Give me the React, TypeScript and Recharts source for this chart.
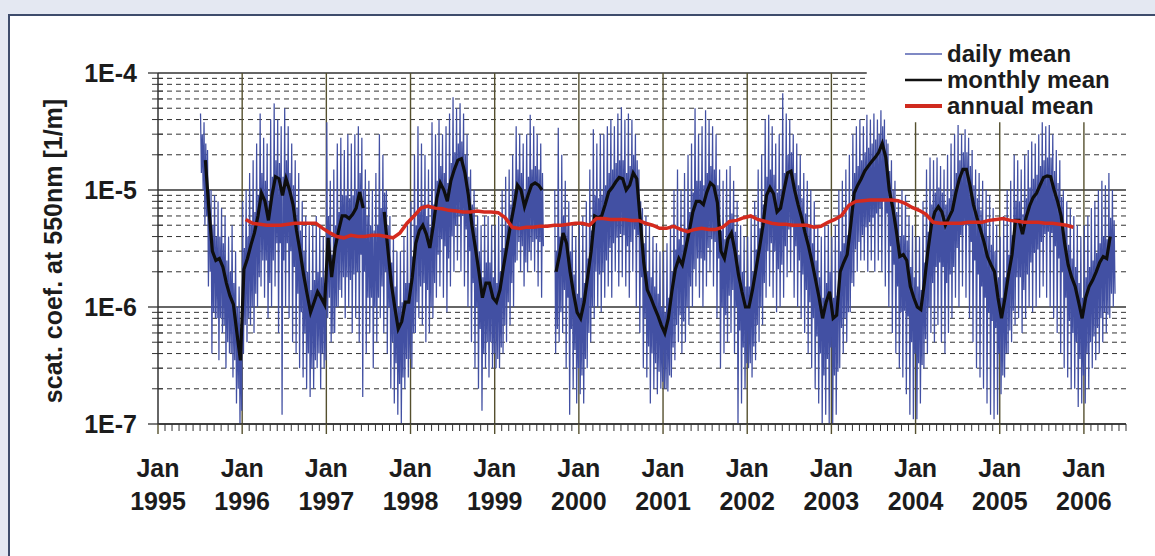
import React from "react";
import { LineChart, Line, XAxis, YAxis, ReferenceLine } from "recharts";

// values are in 1E-6 1/m (Mm-1), axis labels show them in 1/m
const X_START = 1995;
const X_END = 2006.5;
const DECADES = [0.1, 1, 10, 100];
const DECADE_LABELS = ["1E-7", "1E-6", "1E-5", "1E-4"];
const MINOR_STEPS = [2, 3, 4, 5, 6, 7, 8, 9];
const YEAR_LINES = [1996, 1997, 1998, 1999, 2000, 2001, 2002, 2003, 2004, 2005, 2006];
const MONTH_LABEL = "Jan";
const Y_TITLE = "scat. coef. at 550nm [1/m]";
const LEGEND_NAMES = ["daily mean", "monthly mean", "annual mean"];

// legend box hides the grid above/right of this point
const LEGEND_X = 2003.42;
const LEGEND_Y = 38;

// daily mean, extremes: high / low pair per half month
const PEAK_1995 = [
  null, null, null, null, null, null, null, null, null, null, null, null,
  null, null, null, null, null, null, null, null, null, null, null, null,
  45, 14, 38, 5, 22, 1.5, 10, 0.4, 9, 0.8, 8, 0.35,
  7, 0.6, 6, 0.3, 4, 0.4, 5, 0.25, 3, 0.15, 1.5, 0.1,
];
const PEAK_1996 = [
  8, 0.4, 10, 0.5, 14, 0.7, 18, 0.6, 25, 1.0, 45, 1.5,
  28, 1.2, 25, 0.8, 40, 1.0, 55, 1.5, 40, 0.6, 35, 0.12,
  50, 1.0, 35, 0.8, 25, 0.5, 18, 0.4, 14, 0.3, 8, 0.25,
  6, 0.2, 5, 0.17, 5, 0.2, 6, 0.3, 5, 0.2, 4, 0.3,
];
const PEAK_1997 = [
  38, 0.8, 12, 0.5, 15, 0.6, 25, 1.0, 28, 1.2, 22, 0.8,
  30, 1.0, 25, 0.6, 30, 0.8, 35, 0.5, 28, 0.17, 15, 0.4,
  12, 0.6, 10, 0.3, 14, 0.5, 30, 0.8, 20, 0.6, 10, 0.4,
  6, 0.2, 4, 0.15, 3, 0.12, 3, 0.1, 4, 0.2, 5, 0.25,
];
const PEAK_1998 = [
  8, 0.3, 20, 0.6, 35, 0.8, 25, 0.7, 20, 0.5, 15, 0.6,
  38, 0.8, 30, 1.2, 40, 1.5, 30, 1.2, 35, 0.9, 45, 1.5,
  62, 2, 50, 2.5, 55, 2, 45, 1.5, 30, 1.0, 15, 0.5,
  10, 0.3, 6, 0.2, 5, 0.13, 6, 0.3, 6, 0.25, 5, 0.3,
];
const PEAK_1999 = [
  5, 0.3, 6, 0.3, 10, 0.4, 13, 0.5, 15, 0.7, 20, 1.0,
  35, 2.5, 30, 2, 25, 1.5, 30, 2, 44, 2.5, 35, 2,
  30, 1.5, 25, 1.2, null, null, null, null, null, null, 10, 0.4,
  34, 0.5, 20, 0.6, 12, 0.3, 8, 0.12, 5, 0.2, 4, 0.15,
];
const PEAK_2000 = [
  5, 0.18, 6, 0.15, 8, 0.3, 15, 0.5, 33, 0.8, 25, 1.0,
  30, 0.9, 30, 1.2, 35, 1.5, 40, 1.2, 35, 2, 45, 1.5,
  51, 1.8, 40, 1.5, 45, 1.2, 40, 2, 30, 1.0, 15, 0.6,
  7, 0.3, 6, 0.25, 5, 0.15, 4, 0.2, 3.5, 0.18, 3, 0.2,
];
const PEAK_2001 = [
  3, 0.2, 3.5, 0.19, 5, 0.25, 10, 0.35, 15, 0.5, 10, 0.4,
  14, 0.5, 20, 0.7, 25, 1.0, 50, 1.5, 30, 1.2, 35, 1.0,
  48, 1.5, 40, 2, 35, 1.5, 30, 0.8, 15, 0.3, 12, 0.4,
  15, 0.5, 16, 0.6, 12, 0.4, 8, 0.1, 5, 0.15, 4, 0.2,
];
const PEAK_2002 = [
  4, 0.3, 6, 0.25, 8, 0.35, 15, 0.5, 20, 0.7, 40, 1.2,
  44, 1.5, 35, 1.2, 25, 0.9, 30, 1.0, 67, 1.2, 45, 1.8,
  40, 2, 30, 1.2, 25, 1.0, 20, 0.8, 14, 0.6, 12, 0.4,
  10, 0.3, 8, 0.2, 5, 0.15, 4, 0.1, 5, 0.12, 5, 0.1,
];
const PEAK_2003 = [
  4, 0.1, 5, 0.12, 10, 0.3, 12, 0.4, 15, 0.5, 20, 0.9,
  30, 1.5, 35, 2, 40, 2.5, 35, 2.5, 44, 2, 40, 2.5,
  45, 2, 40, 2.5, 48, 2, 40, 1.5, 25, 1.0, 18, 0.6,
  12, 0.4, 8, 0.3, 10, 0.25, 9, 0.18, 6, 0.12, 5, 0.11,
];
const PEAK_2004 = [
  4, 0.11, 4, 0.15, 8, 0.3, 15, 0.4, 19, 0.6, 18, 0.5,
  19, 0.7, 16, 0.5, 15, 0.4, 20, 0.6, 25, 0.8, 30, 1.2,
  36, 1.0, 30, 1.5, 33, 1.2, 28, 0.8, 22, 0.5, 15, 0.3,
  14, 0.25, 12, 0.2, 10, 0.15, 9, 0.12, 7, 0.11, 5, 0.12,
];
const PEAK_2005 = [
  4, 0.18, 6, 0.25, 10, 0.4, 12, 0.5, 20, 0.7, 18, 0.8,
  15, 0.6, 20, 0.8, 22, 1.0, 26, 0.9, 25, 1.0, 30, 1.2,
  38, 1.5, 35, 1.2, 36, 1.0, 30, 0.8, 22, 0.6, 18, 0.4,
  10, 0.3, 8, 0.25, 7, 0.2, 6, 0.2, 5, 0.14, 4, 0.15,
];
const PEAK_2006 = [5, 0.15, 6, 0.2, 7, 0.3, 8, 0.35, 10, 0.4, 12, 0.5, 11, 0.6, 14, 0.8, 10, 1.0];

// daily mean, dense core of the band: top / bottom pair per half month
const CORE_1995 = [
  null, null, null, null, null, null, null, null, null, null, null, null,
  null, null, null, null, null, null, null, null, null, null, null, null,
  30, 10, 25, 6, 10, 2, 5, 0.9, 4, 0.8, 4, 0.8,
  3.5, 0.7, 2.5, 0.5, 2, 0.4, 1.6, 0.35, 1, 0.2, 0.6, 0.13,
];
const CORE_1996 = [
  3.2, 0.7, 4, 0.8, 5, 1, 6.5, 1.3, 9, 1.8, 14, 2.5,
  12, 2.5, 8, 1.6, 13, 2.5, 18, 3.5, 17, 3.5, 13, 2.5,
  18, 3.5, 14, 3, 11, 2.2, 7, 1.3, 4.5, 0.9, 3, 0.6,
  2, 0.4, 1.4, 0.3, 1.7, 0.35, 2, 0.4, 1.8, 0.4, 1.6, 0.35,
];
const CORE_1997 = [
  6, 1.2, 2.8, 0.6, 5, 1, 6.5, 1.4, 9, 1.8, 9, 1.8,
  8.5, 1.7, 9, 1.9, 10, 2, 14, 2.8, 10, 2, 6, 1.2,
  5, 1.2, 4.5, 1, 5, 1.2, 7, 1.5, 9.5, 2, 5, 1,
  2.4, 0.5, 1.5, 0.33, 1, 0.22, 1.1, 0.25, 1.6, 0.36, 1.6, 0.36,
];
const CORE_1998 = [
  2.7, 0.6, 5, 1.1, 6.5, 1.5, 7.5, 1.6, 6, 1.4, 4.8, 1,
  7.5, 1.6, 12, 2.8, 16, 3.8, 14, 3.3, 11.5, 2.6, 17, 4,
  21, 5, 25, 6, 26, 6, 20, 4.6, 13, 3, 7.5, 1.6,
  4.8, 1, 3, 0.65, 1.8, 0.4, 2.4, 0.5, 2.4, 0.5, 1.8, 0.4,
];
const CORE_1999 = [
  1.6, 0.36, 2, 0.45, 3.2, 0.7, 5, 1.1, 7.5, 1.6, 10, 2.4,
  15, 3.6, 14, 3.3, 10, 2.4, 13, 3, 15, 3.6, 16, 3.8,
  15, 3.6, 14, 3.3, null, null, null, null, null, null, 3, 0.65,
  4, 0.9, 6, 1.4, 5, 1.2, 3, 0.65, 1.9, 0.43, 1.3, 0.3,
];
const CORE_2000 = [
  1.2, 0.26, 1.6, 0.36, 2.6, 0.6, 4.5, 1, 9, 2, 8.5, 1.9,
  9, 2, 11, 2.5, 14, 3.2, 15, 3.5, 17, 3.9, 18, 4.2,
  18, 4.1, 14, 3.3, 16, 3.6, 20, 4.6, 18, 4.1, 8, 1.8,
  3.5, 0.8, 2, 0.46, 1.8, 0.4, 1.5, 0.33, 1.3, 0.28, 1, 0.23,
];
const CORE_2001 = [
  0.9, 0.2, 1.2, 0.26, 2, 0.45, 3.1, 0.7, 3.8, 0.85, 3.4, 0.75,
  4.7, 1, 6.5, 1.5, 9.5, 2.1, 12, 2.6, 12, 2.6, 11, 2.5,
  14, 3.2, 16, 3.8, 15, 3.6, 11, 2.6, 4.5, 1, 3.8, 0.85,
  5.5, 1.25, 6.3, 1.4, 4.4, 1, 2.8, 0.63, 2, 0.45, 1.5, 0.33,
];
const CORE_2002 = [
  1.5, 0.33, 2, 0.46, 3.1, 0.7, 4.7, 1, 7.5, 1.6, 13, 3,
  15, 3.5, 13.5, 3, 9.5, 2.1, 10, 2.3, 14, 3.3, 20, 4.6,
  21, 4.8, 14, 3.3, 11, 2.5, 8.5, 1.9, 6.3, 1.4, 4.8, 1.1,
  3.5, 0.8, 2.5, 0.56, 1.8, 0.4, 1.2, 0.26, 1.6, 0.36, 2, 0.45,
];
const CORE_2003 = [
  1.2, 0.26, 1.25, 0.28, 3, 0.66, 3.5, 0.8, 4.1, 0.9, 7.5, 1.6,
  14, 3.1, 16, 3.6, 18, 4.1, 21, 4.8, 23, 5.3, 25, 5.8,
  27, 6.3, 30, 7, 35, 8, 27, 6.3, 14.5, 3.3, 10, 2.3,
  6.5, 1.5, 4, 0.9, 4.1, 0.93, 3.7, 0.83, 2.2, 0.5, 1.8, 0.4,
];
const CORE_2004 = [
  1.5, 0.33, 1.4, 0.32, 2.4, 0.53, 4.4, 1, 7.5, 1.6, 9.5, 2.2,
  10.5, 2.4, 9.5, 2.2, 7.5, 1.6, 8.5, 1.9, 10, 2.2, 14, 3.2,
  18, 4.1, 21, 5, 21, 5, 16, 3.6, 11, 2.5, 8.5, 1.9,
  6.7, 1.5, 5.3, 1.2, 4, 0.9, 3.4, 0.76, 3, 0.66, 1.8, 0.4,
];
const CORE_2005 = [
  1.2, 0.26, 1.8, 0.4, 2.8, 0.63, 4.1, 0.93, 8, 1.8, 8, 1.8,
  6.2, 1.4, 8.5, 1.9, 10.5, 2.4, 12.5, 2.9, 13.5, 3.1, 16, 3.6,
  18, 4.2, 19, 4.4, 19, 4.3, 14.5, 3.3, 11.5, 2.6, 8.7, 2,
  5.1, 1.2, 3.4, 0.76, 2.6, 0.6, 2.2, 0.5, 1.6, 0.36, 1.2, 0.26,
];
const CORE_2006 = [1.8, 0.4, 2.2, 0.5, 2.5, 0.56, 2.9, 0.66, 3.5, 0.8, 4, 0.9, 3.8, 0.86, 5.8, 1.3, 5.5, 1.3];

// monthly mean: one value per half month
const MONTHLY_1995 = [
  null, null, null, null, null, null, null, null, null, null, null, null,
  null, 18, 7, 3, 2.5, 2.6, 2.2, 1.6, 1.25, 1.05, 0.6, 0.35,
];
const MONTHLY_1996 = [2.1, 2.6, 3.4, 4.3, 6, 9.4, 8, 5.5, 9, 13, 12.5, 9, 12.5, 10, 7.5, 4.5, 3, 1.9, 1.3, 0.9, 1.1, 1.35, 1.2, 1.05];
const MONTHLY_1997 = [3.9, 1.8, 3.2, 4.5, 6, 6, 5.7, 6.2, 7, 9.6, 7, null, null, null, null, null, 6.5, 3.2, 1.6, 1.0, 0.65, 0.75, 1.1, 1.1];
const MONTHLY_1998 = [1.8, 3.5, 4.5, 5, 4.2, 3.2, 5, 8.5, 11.5, 10, 8, 12, 15, 18, 18.5, 14, 9, 5, 3.2, 2, 1.2, 1.6, 1.6, 1.2];
const MONTHLY_1999 = [1.1, 1.4, 2.2, 3.3, 5, 7.2, 11, 10, 7.2, 9, 11, 11.5, 11, 10, null, null, null, 2.0, 2.8, 4.3, 3.5, 2, 1.3, 0.9];
const MONTHLY_2000 = [0.8, 1.1, 1.8, 3, 6, 5.8, 6, 7.5, 9.6, 10.5, 11.7, 12.8, 12.5, 10, 11, 14, 12.5, 5.5, 2.4, 1.4, 1.2, 1.0, 0.85, 0.7];
const MONTHLY_2001 = [0.6, 0.8, 1.35, 2.1, 2.6, 2.3, 3.2, 4.5, 6.5, 8, 8, 7.5, 9.6, 11.5, 10.8, 7.8, 3, 2.6, 3.8, 4.3, 3, 1.9, 1.35, 1.0];
const MONTHLY_2002 = [1.0, 1.4, 2.1, 3.2, 5, 9, 10.5, 9.3, 6.5, 7, 10, 14, 14.5, 10, 7.5, 5.8, 4.3, 3.3, 2.4, 1.7, 1.2, 0.8, 1.1, 1.35];
const MONTHLY_2003 = [0.8, 0.85, 2.0, 2.4, 2.8, 5, 9.4, 11, 12.5, 14.5, 16, 17.5, 19, 21, 25, 19, 10, 7, 4.5, 2.7, 2.8, 2.5, 1.5, 1.2];
const MONTHLY_2004 = [1.0, 0.95, 1.6, 3, 5, 6.5, 7.2, 6.5, 5, 5.8, 6.7, 9.5, 12.5, 15, 15, 11, 7.5, 5.8, 4.6, 3.6, 2.7, 2.3, 2.0, 1.2];
const MONTHLY_2005 = [0.8, 1.2, 1.9, 2.8, 5.5, 5.5, 4.2, 5.8, 7.3, 8.6, 9.4, 11, 12.8, 13.2, 13, 10, 8, 6, 3.5, 2.3, 1.8, 1.5, 1.1, 0.8];
const MONTHLY_2006 = [1.2, 1.5, 1.7, 2.0, 2.4, 2.7, 2.6, 4.0];

// annual mean (running): one value per month
const ANNUAL_1996 = [5.6, 5.2, 5.1, 5.0, 5.0, 5.0, 5.1, 5.2, 5.2, 5.2, 5.2, 4.7];
const ANNUAL_1997 = [4.3, 4.0, 3.9, 4.1, 4.0, 4.0, 4.1, 4.1, 4.0, 3.9, 4.3, 5.2];
const ANNUAL_1998 = [6.0, 7.0, 7.3, 7.0, 6.9, 6.7, 6.6, 6.5, 6.5, 6.6, 6.5, 6.5];
const ANNUAL_1999 = [6.4, 5.8, 4.8, 4.7, 4.8, 4.8, 4.9, 4.9, 5.0, 5.0, 5.1, 5.2];
const ANNUAL_2000 = [5.2, 5.0, 5.7, 5.7, 5.6, 5.6, 5.6, 5.5, 5.5, 5.2, 5.0, 4.7];
const ANNUAL_2001 = [4.7, 4.9, 4.6, 4.4, 4.6, 4.7, 4.6, 4.6, 4.8, 5.4, 5.5, 5.8];
const ANNUAL_2002 = [6.0, 5.6, 5.4, 5.2, 5.1, 5.1, 5.0, 5.0, 5.0, 4.8, 4.9, 5.3];
const ANNUAL_2003 = [5.6, 6.1, 7.4, 8.0, 8.1, 8.2, 8.2, 8.2, 8.2, 8.1, 7.7, 7.1];
const ANNUAL_2004 = [6.7, 6.2, 5.3, 5.2, 5.2, 5.2, 5.2, 5.3, 5.3, 5.3, 5.5, 5.6];
const ANNUAL_2005 = [5.7, 5.5, 5.4, 5.3, 5.3, 5.3, 5.2, 5.2, 5.1, 5.0, 4.8];

type Vals = (number | null)[];

const DAILY_ROWS = [
  [1995, PEAK_1995, CORE_1995], [1996, PEAK_1996, CORE_1996], [1997, PEAK_1997, CORE_1997],
  [1998, PEAK_1998, CORE_1998], [1999, PEAK_1999, CORE_1999], [2000, PEAK_2000, CORE_2000],
  [2001, PEAK_2001, CORE_2001], [2002, PEAK_2002, CORE_2002], [2003, PEAK_2003, CORE_2003],
  [2004, PEAK_2004, CORE_2004], [2005, PEAK_2005, CORE_2005], [2006, PEAK_2006, CORE_2006],
] as [number, Vals, Vals][];
const MONTHLY_ROWS = [
  [1995, MONTHLY_1995], [1996, MONTHLY_1996], [1997, MONTHLY_1997], [1998, MONTHLY_1998],
  [1999, MONTHLY_1999], [2000, MONTHLY_2000], [2001, MONTHLY_2001], [2002, MONTHLY_2002],
  [2003, MONTHLY_2003], [2004, MONTHLY_2004], [2005, MONTHLY_2005], [2006, MONTHLY_2006],
] as [number, Vals][];
const ANNUAL_ROWS = [
  [1996, ANNUAL_1996], [1997, ANNUAL_1997], [1998, ANNUAL_1998], [1999, ANNUAL_1999],
  [2000, ANNUAL_2000], [2001, ANNUAL_2001], [2002, ANNUAL_2002], [2003, ANNUAL_2003],
  [2004, ANNUAL_2004], [2005, ANNUAL_2005],
] as [number, Vals][];

const toSeries = (rows: [number, Vals][], perYear: number) =>
  rows.flatMap(([year, vals]) => vals.map((v, i) => ({ t: year + (i + 0.5) / perYear, v })));

// each half month: peak high, peak low, core top, core bottom
const dailyData = DAILY_ROWS.flatMap(([year, peak, core]) =>
  Array.from({ length: peak.length / 2 }, (_, j) => j).flatMap((j) =>
    [peak[2 * j], peak[2 * j + 1], core[2 * j], core[2 * j + 1]].map((v, q) => ({
      t: year + (4 * j + q + 0.5) / 96,
      v,
    }))
  )
);
const monthlyData = toSeries(MONTHLY_ROWS, 24);
const annualData = toSeries(ANNUAL_ROWS, 12);

const Y_MINOR = DECADES.slice(0, -1).flatMap((d) => MINOR_STEPS.map((k) => d * k));
const Y_TICKS = [...DECADES, ...Y_MINOR].sort((a, b) => a - b);
const X_TICKS = Array.from({ length: Math.round((X_END - X_START) * 12) + 1 }, (_, i) => X_START + i / 12);

const FONT = "'Liberation Sans', Arial, sans-serif";
const INK = "#1c1c1c";
const GRID = "#333333";
const YEAR_GRID = "#55502e";

const YTick = (props: any) => {
  const { x, y, payload } = props;
  const i = DECADES.indexOf(payload.value);
  if (i < 0) {
    return <line x1={x - 6} x2={x + 5} y1={y} y2={y} stroke={GRID} strokeWidth={1} />;
  }
  return (
    <g>
      <line x1={x - 10} x2={x} y1={y} y2={y} stroke={GRID} strokeWidth={1.3} />
      <text x={x - 21} y={y + 9} textAnchor="end" fontFamily={FONT} fontWeight="bold" fontSize={25} fill={INK}>
        {DECADE_LABELS[i]}
      </text>
    </g>
  );
};

const XTick = (props: any) => {
  const { x, y, payload } = props;
  const m = Math.round((payload.value - X_START) * 12);
  if (m % 12 !== 0) {
    return <line x1={x} x2={x} y1={y} y2={y + 7} stroke={GRID} strokeWidth={1} />;
  }
  return (
    <g>
      <line x1={x} x2={x} y1={y} y2={y + 10} stroke={YEAR_GRID} strokeWidth={1.4} />
      <text x={x} y={y + 53} textAnchor="middle" fontFamily={FONT} fontWeight="bold" fontSize={25} fill={INK}>
        {MONTH_LABEL}
      </text>
      <text x={x} y={y + 86} textAnchor="middle" fontFamily={FONT} fontWeight="bold" fontSize={25} fill={INK}>
        {X_START + m / 12}
      </text>
    </g>
  );
};

const LEGEND_LOOK = [
  { stroke: "#5462b0", width: 1.3 },
  { stroke: "#111111", width: 2.5 },
  { stroke: "#d02a1e", width: 4 },
];

// a grid line that stops at the legend box when it would run under it
const hLine = (v: number, key: string, extra: any) =>
  v > LEGEND_Y ? (
    <ReferenceLine key={key} segment={[{ x: X_START, y: v }, { x: LEGEND_X, y: v }]} {...extra} />
  ) : (
    <ReferenceLine key={key} y={v} {...extra} />
  );

export default function App() {
  return (
    <div style={{ position: "relative", width: 1155, height: 556, overflow: "hidden", background: "#e4e8f2" }}>
      <style>{"body{margin:0}"}</style>
      <div
        style={{
          position: "absolute",
          left: 8,
          top: 14,
          width: 1200,
          height: 600,
          background: "#ffffff",
          borderTop: "2px solid #3e4c6c",
          borderLeft: "2px solid #3e4c6c",
        }}
      />
      <div style={{ position: "absolute", left: 0, top: 0 }}>
        <LineChart width={1155} height={556} margin={{ top: 73, right: 29, bottom: 72, left: 98 }}>
          {Y_MINOR.map((v) => hLine(v, `m${v}`, { stroke: GRID, strokeWidth: 1, strokeDasharray: "5 4" }))}
          {DECADES.map((v) => hLine(v, `d${v}`, { stroke: GRID, strokeWidth: 1.3 }))}
          {YEAR_LINES.map((yr) =>
            yr > LEGEND_X ? (
              <ReferenceLine
                key={`y${yr}`}
                segment={[{ x: yr, y: DECADES[0] }, { x: yr, y: LEGEND_Y }]}
                stroke={YEAR_GRID}
                strokeWidth={1.4}
              />
            ) : (
              <ReferenceLine key={`y${yr}`} x={yr} stroke={YEAR_GRID} strokeWidth={1.4} />
            )
          )}
          <XAxis
            type="number"
            dataKey="t"
            domain={[X_START, X_END]}
            ticks={X_TICKS}
            interval={0}
            allowDataOverflow
            height={60}
            tickSize={0}
            tickMargin={0}
            tickLine={false}
            axisLine={{ stroke: GRID, strokeWidth: 1.5 }}
            tick={(p: any) => <XTick {...p} />}
          />
          <YAxis
            type="number"
            scale="log"
            domain={[DECADES[0], DECADES[DECADES.length - 1]]}
            ticks={Y_TICKS}
            interval={0}
            allowDataOverflow
            width={60}
            tickSize={0}
            tickMargin={0}
            tickLine={false}
            axisLine={{ stroke: GRID, strokeWidth: 1.5 }}
            tick={(p: any) => <YTick {...p} />}
          />
          <Line
            data={dailyData}
            dataKey="v"
            type="linear"
            stroke="#4250a3"
            strokeWidth={1.25}
            dot={false}
            activeDot={false}
            isAnimationActive={false}
          />
          <Line
            data={monthlyData}
            dataKey="v"
            type="linear"
            stroke="#0e0e0e"
            strokeWidth={3.2}
            dot={false}
            activeDot={false}
            isAnimationActive={false}
          />
          <Line
            data={annualData}
            dataKey="v"
            type="linear"
            stroke="#d42a1e"
            strokeWidth={3.5}
            dot={false}
            activeDot={false}
            isAnimationActive={false}
          />
        </LineChart>
      </div>
      <svg width={1155} height={556} style={{ position: "absolute", left: 0, top: 0, pointerEvents: "none" }}>
        <text
          transform="translate(62,251) rotate(-90)"
          textAnchor="middle"
          fontFamily={FONT}
          fontWeight="bold"
          fontSize={25}
          fill={INK}
        >
          {Y_TITLE}
        </text>
        {LEGEND_NAMES.map((name, i) => (
          <g key={name}>
            <line
              x1={905}
              x2={942}
              y1={54 + i * 26}
              y2={54 + i * 26}
              stroke={LEGEND_LOOK[i].stroke}
              strokeWidth={LEGEND_LOOK[i].width}
            />
            <text x={947} y={62 + i * 26} fontFamily={FONT} fontWeight="bold" fontSize={24} fill={INK}>
              {name}
            </text>
          </g>
        ))}
      </svg>
    </div>
  );
}
